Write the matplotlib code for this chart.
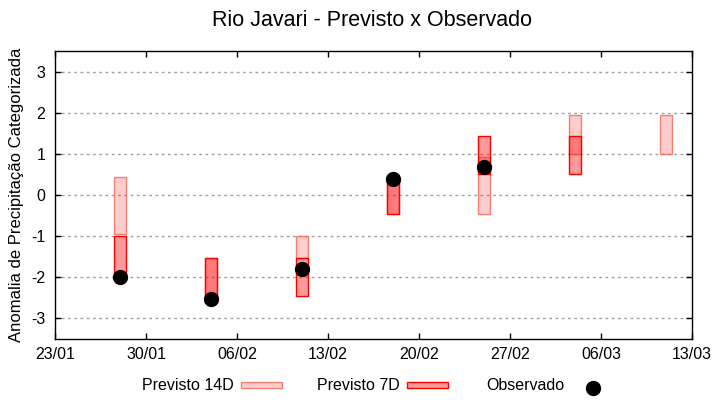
import matplotlib
matplotlib.use("Agg")
import matplotlib.pyplot as plt
import matplotlib.dates as mdates
from matplotlib.patches import Rectangle
from matplotlib.lines import Line2D
import datetime as dt

plt.rcParams['font.family'] = ['Liberation Sans', 'DejaVu Sans']

# Data
dates = ["2021-01-28", "2021-02-04", "2021-02-11", "2021-02-18",
         "2021-02-25", "2021-03-04", "2021-03-11"]
p14_low = [-0.95, -2.50, -1.52, -0.45, -0.45, 1.00, 1.00]
p14_high = [0.43, -1.52, -1.00, 0.38, 0.93, 1.94, 1.94]
p7_low = [-2.00, -2.50, -2.45, -0.45, 0.51, 0.50, None]
p7_high = [-1.00, -1.52, -1.52, 0.38, 1.43, 1.43, None]
obs_dates = ["2021-01-28", "2021-02-04", "2021-02-11", "2021-02-18", "2021-02-25"]
obs_vals = [-2.00, -2.52, -1.81, 0.38, 0.67]
xticks = ["2021-01-23", "2021-01-30", "2021-02-06", "2021-02-13", "2021-02-20",
          "2021-02-27", "2021-03-06", "2021-03-13"]
yticks = [-3, -2, -1, 0, 1, 2, 3]
labels = ["Previsto 14D", "Previsto 7D", "Observado"]

to_d = lambda s: dt.datetime.strptime(s, "%Y-%m-%d")
xd = [mdates.date2num(to_d(s)) for s in dates]
xo = [mdates.date2num(to_d(s)) for s in obs_dates]
xt = [mdates.date2num(to_d(s)) for s in xticks]

W, H = 720, 400
fig = plt.figure(figsize=(7.2, 4.0), dpi=100)
ax = fig.add_axes([55/W, 1-339/H, (692-55)/W, (339-51)/H])

width = 0.92
c14_face = (1, 0, 0, 0.2)
c14_edge = (0.95, 0.4, 0.35, 0.8)
c7_face = (1, 0, 0, 0.4)
c7_edge = (1, 0, 0, 1)

b14 = [h - l for l, h in zip(p14_low, p14_high)]
ax.bar(xd, b14, bottom=p14_low, width=width, color=c14_face,
       edgecolor=c14_edge, linewidth=1.0, zorder=3)
x7 = [x for x, l in zip(xd, p7_low) if l is not None]
l7 = [l for l in p7_low if l is not None]
h7 = [h for h in p7_high if h is not None]
ax.bar(x7, [h - l for l, h in zip(l7, h7)], bottom=l7, width=width,
       color=c7_face, edgecolor=c7_edge, linewidth=1.0, zorder=4)
ax.plot(xo, obs_vals, 'o', color='black', markersize=10, zorder=5, linestyle='none')

ax.set_xlim(xt[0], xt[-1])
ax.set_ylim(-3.5, 3.5)
ax.set_xticks(xt)
ax.set_xticklabels([to_d(s).strftime("%d/%m") for s in xticks])
ax.set_yticks(yticks)
ax.set_yticklabels([str(v) for v in yticks])
ax.tick_params(direction='in', length=4, width=1, labelsize=11.5,
               top=True, right=True, colors='black')
ax.tick_params(axis='x', pad=6)
ax.tick_params(axis='y', pad=7)
ax.grid(axis='y', color='#a0a0a0', linestyle=(0, (2, 2.5)), linewidth=1, zorder=1)
for s in ax.spines.values():
    s.set_linewidth(1.0)
    s.set_zorder(6)

ax.set_ylabel("Anomalia de Precipitação Categorizada", fontsize=12, labelpad=5)
fig.text(372/W, 1-20/H, "Rio Javari - Previsto x Observado", ha='center', va='center',
         fontsize=15.5)

# Legend (gnuplot style: label then key)
ly = 1 - 385/H
fs = 11.5
fig.text(142/W, ly, labels[0], ha='left', va='center', fontsize=fs)
fig.patches.append(Rectangle((241/W, ly - 3/H), 41/W, 6/H, transform=fig.transFigure,
                             facecolor=c14_face, edgecolor=c14_edge, linewidth=1.0))
fig.text(317/W, ly, labels[1], ha='left', va='center', fontsize=fs)
fig.patches.append(Rectangle((407/W, ly - 3/H), 41/W, 6/H, transform=fig.transFigure,
                             facecolor=c7_face, edgecolor=c7_edge, linewidth=1.0))
fig.text(486/W, ly, labels[2], ha='left', va='center', fontsize=fs)
fig.lines.append(Line2D([593/W], [1 - 388/H], transform=fig.transFigure, marker='o',
                        color='black', markersize=10, linestyle='none'))

fig.savefig("out.png", dpi=100)
